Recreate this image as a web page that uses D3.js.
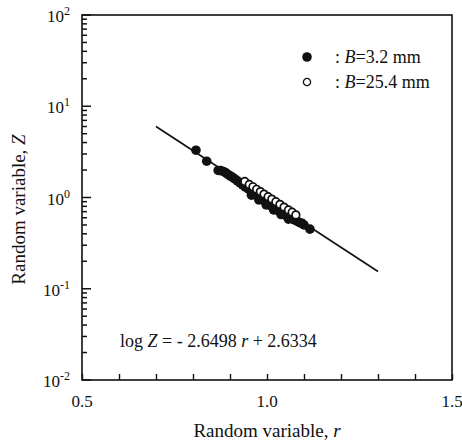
<!DOCTYPE html>
<html>
<head>
<meta charset="utf-8">
<script src="https://cdn.jsdelivr.net/npm/d3@7"></script>
<style>
  body { margin: 0; background: #fff; }
  text { font-family: "Liberation Serif", "DejaVu Serif", serif; fill: #111; }
</style>
</head>
<body>
<div id="chart"></div>
<script>
// B = 3.2 mm (filled)
const smallR = [0.808, 0.837, 0.868, 0.875, 0.882, 0.889, 0.895, 0.901, 0.907, 0.913,
  0.920, 0.927, 0.934, 0.941, 0.948, 0.955, 0.962, 0.969, 0.976, 0.983,
  0.990, 0.997, 1.004, 1.011, 1.018, 1.025, 1.032, 1.039, 1.046, 1.053,
  1.060, 1.067, 1.074, 1.081, 1.088, 1.095, 1.100, 1.116,
  0.958, 0.978, 0.998, 1.018, 1.038, 1.058];
const smallZ = [3.30, 2.50, 1.98, 1.97, 1.93, 1.86, 1.78, 1.72, 1.66, 1.60,
  1.52, 1.45, 1.38, 1.31, 1.25, 1.19, 1.13, 1.07, 1.02, 0.97,
  0.93, 0.89, 0.85, 0.81, 0.77, 0.74, 0.71, 0.68, 0.65, 0.63,
  0.61, 0.59, 0.57, 0.55, 0.53, 0.52, 0.50, 0.45,
  1.06, 0.94, 0.83, 0.73, 0.65, 0.58];

// B = 25.4 mm (open)
const largeR = [0.940, 0.952, 0.962, 0.972, 0.982, 0.992, 1.003, 1.013, 1.024, 1.035,
  1.046, 1.058, 1.068, 1.078];
const largeZ = [1.50, 1.39, 1.31, 1.23, 1.16, 1.09, 1.02, 0.96, 0.90, 0.84,
  0.785, 0.73, 0.69, 0.645];

// regression: log Z = -2.6498 r + 2.6334
const slope = -2.6498;
const intercept = 2.6334;
const fitRange = [0.7, 1.3];

const xTickValues = [0.5, 0.6, 0.7, 0.8, 0.9, 1.0, 1.1, 1.2, 1.3, 1.4, 1.5];
const xTickLabels = ["0.5", "1.0", "1.5"];
const yExponents = [-2, -1, 0, 1, 2];

const width = 462, height = 443;
const margin = { top: 15, right: 10, bottom: 63, left: 82 };
const w = width - margin.left - margin.right;
const h = height - margin.top - margin.bottom;

const svg = d3.select("#chart").append("svg")
  .attr("width", width)
  .attr("height", height);

const g = svg.append("g").attr("transform", `translate(${margin.left},${margin.top})`);

const x = d3.scaleLinear().domain([0.5, 1.5]).range([0, w]);
const y = d3.scaleLog().domain([0.01, 100]).range([h, 0]);

// frame
g.append("rect")
  .attr("width", w).attr("height", h)
  .attr("fill", "none").attr("stroke", "#111").attr("stroke-width", 1.6);

// x ticks (inward)
g.append("g")
  .attr("transform", `translate(0,${h})`)
  .call(d3.axisBottom(x).tickValues(xTickValues).tickSize(-6).tickFormat(""))
  .call(a => a.select(".domain").remove())
  .call(a => a.selectAll("line").attr("stroke", "#111").attr("stroke-width", 1.4));

g.selectAll(".xlab")
  .data(xTickLabels)
  .enter().append("text")
  .attr("x", d => x(+d))
  .attr("y", h + 27)
  .attr("text-anchor", "middle")
  .attr("font-size", 17)
  .text(d => d);

// y ticks: minor + major
const isDecade = d => Math.abs(Math.log10(d) - Math.round(Math.log10(d))) < 1e-9;
g.append("g")
  .selectAll("line")
  .data(y.ticks())
  .enter().append("line")
  .attr("x1", 0)
  .attr("x2", d => isDecade(d) ? 9 : 5)
  .attr("y1", d => y(d)).attr("y2", d => y(d))
  .attr("stroke", "#111").attr("stroke-width", 1.5);

const ylab = g.selectAll(".ylab")
  .data(yExponents)
  .enter().append("text")
  .attr("x", -12)
  .attr("y", d => y(Math.pow(10, d)) + 7)
  .attr("text-anchor", "end")
  .attr("font-size", 17);
ylab.append("tspan").text("10");
ylab.append("tspan").attr("dy", -7).attr("font-size", 12).text(d => d);

// fitted line
const fit = fitRange.map(r => ({ r, z: Math.pow(10, slope * r + intercept) }));
g.append("path")
  .datum(fit)
  .attr("fill", "none")
  .attr("stroke", "#111")
  .attr("stroke-width", 1.6)
  .attr("d", d3.line().x(d => x(d.r)).y(d => y(d.z)));

// points
const smallData = smallR.map((r, i) => ({ r, z: smallZ[i] }));
const largeData = largeR.map((r, i) => ({ r, z: largeZ[i] }));

g.append("g").selectAll("circle")
  .data(smallData)
  .enter().append("circle")
  .attr("cx", d => x(d.r)).attr("cy", d => y(d.z))
  .attr("r", 4.8)
  .attr("fill", "#111");

g.append("g").selectAll("circle")
  .data(largeData)
  .enter().append("circle")
  .attr("cx", d => x(d.r)).attr("cy", d => y(d.z))
  .attr("r", 3.8)
  .attr("fill", "#fff")
  .attr("stroke", "#111")
  .attr("stroke-width", 1.7);

// legend
const legend = [
  { label: "3.2 mm", filled: true },
  { label: "25.4 mm", filled: false }
];
const lg = g.selectAll(".leg")
  .data(legend)
  .enter().append("g")
  .attr("transform", (d, i) => `translate(225,${42 + i * 25})`);
lg.append("circle")
  .attr("r", d => d.filled ? 4.8 : 3.6)
  .attr("fill", d => d.filled ? "#111" : "#fff")
  .attr("stroke", "#111")
  .attr("stroke-width", d => d.filled ? 0 : 1.3);
const lt = lg.append("text")
  .attr("x", 28).attr("y", 6)
  .attr("font-size", 18);
lt.append("tspan").text(": ");
lt.append("tspan").attr("font-style", "italic").text("B");
lt.append("tspan").text(d => "=" + d.label);

// equation
const eq = g.append("text")
  .attr("x", 38).attr("y", h - 33)
  .attr("font-size", 18);
eq.append("tspan").text("log ");
eq.append("tspan").attr("font-style", "italic").text("Z");
eq.append("tspan").text(" = - 2.6498 ");
eq.append("tspan").attr("font-style", "italic").text("r");
eq.append("tspan").text(" + 2.6334");

// axis titles
const xt = svg.append("text")
  .attr("x", margin.left + w / 2)
  .attr("y", 437)
  .attr("text-anchor", "middle")
  .attr("font-size", 19);
xt.append("tspan").text("Random variable, ");
xt.append("tspan").attr("font-style", "italic").text("r");

const yt = svg.append("text")
  .attr("transform", `translate(25,${margin.top + h / 2 + 12}) rotate(-90)`)
  .attr("text-anchor", "middle")
  .attr("font-size", 19);
yt.append("tspan").text("Random variable, ");
yt.append("tspan").attr("font-style", "italic").text("Z");
</script>
</body>
</html>
